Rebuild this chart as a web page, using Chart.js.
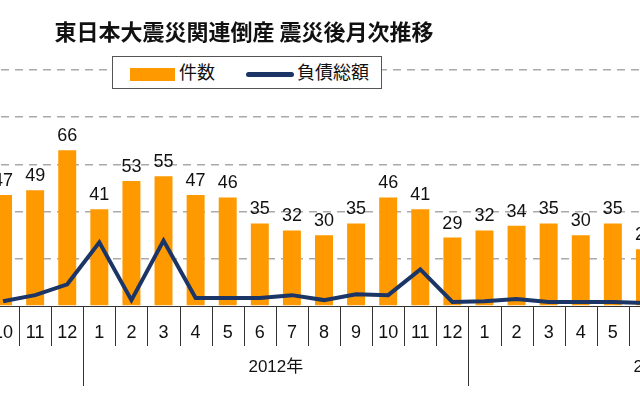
<!DOCTYPE html>
<html>
<head>
<meta charset="utf-8">
<script src="https://cdn.jsdelivr.net/npm/chart.js@4"></script>
<style>
body{margin:0;width:640px;height:400px;overflow:hidden;background:#fff;position:relative;font-family:"Liberation Sans","Noto Sans CJK JP",sans-serif}
#wrap{position:absolute;left:-30px;top:0;width:720px;height:400px}
#title{position:absolute;left:0;width:488px;top:14px;text-align:center;font-size:22px;color:#111;font-family:"Noto Sans CJK JP",sans-serif;font-weight:bold;white-space:nowrap}
#legend{position:absolute;left:112px;top:56px;width:268px;height:31px;border:1px solid #555;background:#fff;font-family:"Noto Sans CJK JP",sans-serif;font-size:18px;color:#111}
#legend span{position:absolute;top:1px}
</style>
</head>
<body>
<div id="wrap"><canvas id="c" width="720" height="400"></canvas></div>
<div id="title">東日本大震災関連倒産 震災後月次推移</div>
<div id="legend">
 <div style="position:absolute;left:17px;top:11px;width:45px;height:13px;background:#ff9900"></div><span style="left:66px">件数</span>
 <div style="position:absolute;left:133px;top:15px;width:48px;height:5px;border-radius:3px;background:#1a3566"></div><span style="left:184px">負債総額</span>
</div>
<script>
const months = ['10','11','12','1','2','3','4','5','6','7','8','9','10','11','12','1','2','3','4','5','6'];
const yearLabels = [{label:'2012年', from:3, to:14}, {label:'2013年', from:15, to:26}];
const counts = [47,49,66,41,53,55,47,46,35,32,30,35,46,41,29,32,34,35,30,35,24];
const debt = [40,92,184,540,50,554,68,68,68,92,50,100,92,310,34,40,60,34,34,34,26];

const overlay = {
  id:'overlay',
  afterDatasetsDraw(chart){
    const ctx = chart.ctx, x = chart.scales.x, area = chart.chartArea;
    const bars = chart.getDatasetMeta(0).data;
    ctx.save();
    ctx.fillStyle = '#111';
    ctx.textAlign = 'center';
    ctx.font = '18px "Liberation Sans", sans-serif';
    ctx.textBaseline = 'bottom';
    bars.forEach((b,i)=>ctx.fillText(counts[i], b.x, b.y-5));
    ctx.textBaseline = 'middle';
    ctx.font = '18px "Liberation Sans", sans-serif';
    months.forEach((m,i)=>ctx.fillText(m, x.getPixelForValue(i), area.bottom+27));
    ctx.strokeStyle = '#333'; ctx.lineWidth = 1;
    ctx.beginPath(); ctx.moveTo(area.left, area.bottom+0.5); ctx.lineTo(area.right, area.bottom+0.5); ctx.stroke();
    const step = x.getPixelForValue(1)-x.getPixelForValue(0);
    for(let i=0;i<=months.length;i++){
      const px = Math.round(x.getPixelForValue(i)-step/2)+0.5;
      const yearEdge = yearLabels.some(y=>y.from===i);
      ctx.beginPath(); ctx.moveTo(px, area.bottom); ctx.lineTo(px, area.bottom+(yearEdge?80:40)); ctx.stroke();
    }
    ctx.font = '17px "Liberation Sans","Noto Sans CJK JP", sans-serif';
    yearLabels.forEach(y=>{
      const cx = (x.getPixelForValue(y.from)+x.getPixelForValue(y.to))/2;
      ctx.fillText(y.label, cx, area.bottom+61);
    });
    ctx.restore();
  }
};

new Chart(document.getElementById('c'), {
  type:'bar',
  data:{
    labels: months,
    datasets:[
      {type:'bar', label:'件数', data:counts, backgroundColor:'#ff9900', barPercentage:0.56, categoryPercentage:1, yAxisID:'y', order:2},
      {type:'line', label:'負債総額', data:debt, borderColor:'#1a3566', borderWidth:4, pointRadius:0, tension:0, yAxisID:'y2', order:1}
    ]
  },
  options:{
    responsive:false, animation:false,
    layout:{padding:{left:17, right:29, top:70, bottom:94}},
    plugins:{legend:{display:false}, title:{display:false}, tooltip:{enabled:false}},
    scales:{
      x:{display:false},
      y:{min:0, max:100, display:true, position:'left',
         border:{display:false, dash:[8,6]}, ticks:{display:false, stepSize:20},
         grid:{color:ctx=>ctx.tick.value===0?'rgba(0,0,0,0)':'#aaa', lineWidth:1.5, drawTicks:false}, afterFit(s){s.width=0;}},
      y2:{min:0, max:2000, display:false}
    }
  },
  plugins:[overlay]
});
</script>
</body>
</html>
